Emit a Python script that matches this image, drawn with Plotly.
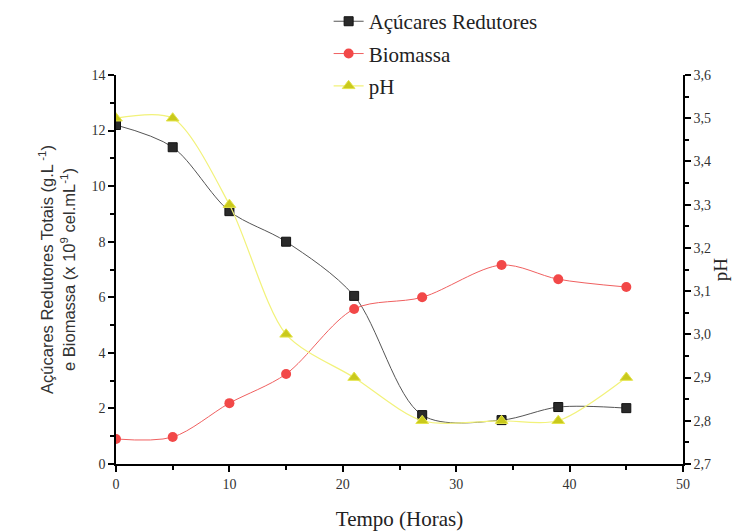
import plotly.graph_objects as go

# Fermentation kinetics: time (h), reducing sugars, biomass and pH
tempo = [0, 5, 10, 15, 21, 27, 34, 39, 45]
acucares = [12.2, 11.4, 9.1, 8.0, 6.05, 1.76, 1.58, 2.05, 2.01]
biomassa = [0.9, 0.97, 2.19, 3.24, 5.58, 6.0, 7.16, 6.65, 6.37]
ph = [3.5, 3.5, 3.3, 3.0, 2.9, 2.8, 2.8, 2.8, 2.9]

serif = "Liberation Serif"
sans = "Liberation Sans"

fig = go.Figure()

fig.add_trace(go.Scatter(
    x=tempo, y=acucares, name="Açúcares Redutores", legendgroup="a",
    mode="lines+markers",
    line=dict(color="#555555", width=1, shape="spline", smoothing=0.9),
    marker=dict(symbol="square", size=9, color="#2a2a2a",
                line=dict(color="#111111", width=1)),
))
fig.add_trace(go.Scatter(
    x=tempo, y=biomassa, name="Biomassa", legendgroup="b",
    mode="lines+markers",
    line=dict(color="#f06060", width=1, shape="spline", smoothing=0.9),
    marker=dict(symbol="circle", size=10, color="#f24848",
                line=dict(color="#f24848", width=0)),
))
fig.add_trace(go.Scatter(
    x=tempo, y=ph, name="pH", legendgroup="c", yaxis="y2",
    mode="lines+markers",
    line=dict(color="#f2f27a", width=1.2, shape="spline", smoothing=0.8),
    marker=dict(symbol="triangle-up", size=11, color="#c9c91c",
                line=dict(color="#e4e44a", width=1)),
))

axis_common = dict(
    showline=True, linecolor="black", linewidth=1.5,
    ticks="outside", ticklen=6, tickwidth=1.5, tickcolor="black",
    showgrid=False, zeroline=False, automargin=False,
    tickfont=dict(family=serif, size=14, color="#333333"),
)

fig.update_layout(
    width=734, height=531,
    margin=dict(l=116, r=51, t=75, b=67, autoexpand=False),
    paper_bgcolor="white", plot_bgcolor="white",
    separators=",.",
    xaxis=dict(
        range=[0, 50], tick0=0, dtick=10,
        minor=dict(dtick=5, ticks="outside", ticklen=4, tickcolor="black", tickwidth=1.5),
        title=dict(text="Tempo (Horas)", font=dict(family=serif, size=21, color="#222222"),
                   standoff=22),
        **axis_common,
    ),
    yaxis=dict(
        range=[0, 14], tick0=0, dtick=2,
        minor=dict(dtick=1, ticks="outside", ticklen=4, tickcolor="black", tickwidth=1.5),
        title=dict(
            text="Açúcares Redutores Totais (g.L<sup> -1</sup>)<br>e Biomassa (x 10<sup>9</sup> cel.mL<sup>-1</sup>)",
            font=dict(family=sans, size=16.5, color="#333333"), standoff=12),
        **axis_common,
    ),
    yaxis2=dict(
        range=[2.7, 3.6], tick0=2.7, dtick=0.1, tickformat=".1f",
        overlaying="y", side="right", anchor="x",
        minor=dict(dtick=0.05, ticks="outside", ticklen=4, tickcolor="black", tickwidth=1.5),
        title=dict(text="pH", font=dict(family=serif, size=19, color="#222222"), standoff=4),
        **axis_common,
    ),
    legend=dict(
        x=0.375, y=1.19, xanchor="left", yanchor="top",
        font=dict(family=serif, size=21, color="#222222"),
        bgcolor="rgba(0,0,0,0)", tracegroupgap=2, traceorder="grouped",
    ),
    showlegend=True,
)

fig.write_html("out.html")
